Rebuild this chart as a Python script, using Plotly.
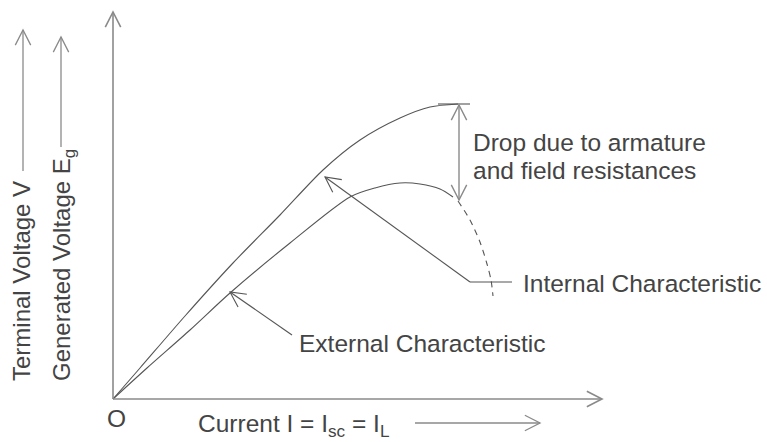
import math
import plotly.graph_objects as go

# Internal characteristic: generated voltage Eg against current
internal_current = [0, 2.7, 7.2, 12.0, 16.7, 21.0, 24.7, 28.7, 31.7, 34.5]
internal_voltage = [0, 3.1, 8.3, 13.6, 18.4, 22.9, 25.9, 28.1, 29.2, 29.5]

# External characteristic: terminal voltage V against load current
external_current = [0, 3.4, 7.7, 11.7, 17.7, 23.7, 26.2, 28.7, 30.7, 32.7, 34.0]
external_voltage = [0, 3.1, 6.9, 10.6, 15.6, 20.2, 21.1, 21.6, 21.5, 21.0, 20.2]

# Turning-back region of the external characteristic (dashed)
falling_current = [34.5, 35.7, 36.7, 37.4, 37.8, 38.0]
falling_voltage = [19.8, 17.9, 15.7, 13.5, 11.9, 10.3]

TEXT = "#444444"
AXIS = "#8a8a8a"
CURVE = "#555555"
FONT = "Liberation Sans, Arial, sans-serif"
SIZE = 24.5
SIZE_V = 24

fig = go.Figure()

fig.add_trace(go.Scatter(x=internal_current, y=internal_voltage, mode="lines",
                         line=dict(color=CURVE, width=1.1, shape="spline", smoothing=0.8),
                         hoverinfo="skip"))
fig.add_trace(go.Scatter(x=external_current, y=external_voltage, mode="lines",
                         line=dict(color=CURVE, width=1.1, shape="spline", smoothing=0.8),
                         hoverinfo="skip"))
fig.add_trace(go.Scatter(x=falling_current, y=falling_voltage, mode="lines",
                         line=dict(color=CURVE, width=1.1, shape="spline", smoothing=0.8,
                                   dash="6px,5px"),
                         hoverinfo="skip"))

shapes = []


def seg(x0, y0, x1, y1, color=CURVE, width=1.1):
    shapes.append(dict(type="line", xref="x", yref="y", x0=x0, y0=y0, x1=x1, y1=y1,
                       line=dict(color=color, width=width)))


def head(tip, tail, color=CURVE, width=1.1, length=1.7, half_angle=27):
    """Open V-shaped arrowhead at `tip`, pointing away from `tail`."""
    ang = math.atan2(tip[1] - tail[1], tip[0] - tail[0])
    pts = []
    for s in (1, -1):
        a = ang + math.pi + s * math.radians(half_angle)
        pts.append((tip[0] + length * math.cos(a), tip[1] + length * math.sin(a)))
    path = "M {:.3f},{:.3f} L {:.3f},{:.3f} L {:.3f},{:.3f}".format(
        pts[0][0], pts[0][1], tip[0], tip[1], pts[1][0], pts[1][1])
    shapes.append(dict(type="path", xref="x", yref="y", path=path,
                       line=dict(color=color, width=width)))


def arrow(tail, tip, color=CURVE, width=1.1, both=False):
    seg(tail[0], tail[1], tip[0], tip[1], color, width)
    head(tip, tail, color, width)
    if both:
        head(tail, tip, color, width)


# coordinate axes
arrow((0, 0), (0, 38.7), AXIS, 1.6)
arrow((0, 0), (48.9, 0), AXIS, 1.6)

# quantity arrows beside the axis titles
arrow((-9.0, 22.8), (-9.0, 36.9), AXIS, 1.3)
arrow((-5.2, 25.2), (-5.2, 36.2), AXIS, 1.3)
arrow((30.2, -2.4), (42.7, -2.4), AXIS, 1.3)

# voltage drop between the two characteristics
seg(32.5, 29.5, 35.7, 29.5)
arrow((34.6, 29.4), (34.6, 19.9), AXIS, 1.4, both=True)

# leader lines
seg(35.7, 11.7, 39.9, 11.7)
arrow((35.7, 11.7), (21.2, 22.2))
arrow((17.9, 6.4), (11.7, 10.7))

ann = []


def label(text, x, y, xanchor="left", yanchor="middle", angle=0, size=SIZE):
    ann.append(dict(text=text, x=x, y=y, xref="x", yref="y", showarrow=False,
                    xanchor=xanchor, yanchor=yanchor, textangle=angle, align="left",
                    font=dict(family=FONT, size=size, color=TEXT)))


label("Terminal Voltage V", -9.2, 1.6, "center", "bottom", -90, SIZE_V)
label("Generated Voltage E<sub>g</sub>", -5.0, 1.6, "center", "bottom", -90, SIZE_V)
label("O", 0.3, -1.9, "center", "middle")
label("Current I = I<sub>sc</sub> = I<sub>L</sub>", 8.3, -2.6, "left", "middle")
label("Drop due to armature", 35.8, 25.7, "left", "middle")
label("and field resistances", 35.8, 22.9, "left", "middle")
label("Internal Characteristic", 40.8, 11.6, "left", "middle")
label("External Characteristic", 18.4, 5.6, "left", "middle")

fig.update_layout(
    width=767, height=442,
    margin=dict(l=0, r=0, t=0, b=0),
    paper_bgcolor="white", plot_bgcolor="white",
    showlegend=False,
    xaxis=dict(range=[-11.3, 65.4], visible=False, fixedrange=True),
    yaxis=dict(range=[-4.3, 39.9], visible=False, fixedrange=True),
    shapes=shapes, annotations=ann,
)

fig.write_html("out.html")
